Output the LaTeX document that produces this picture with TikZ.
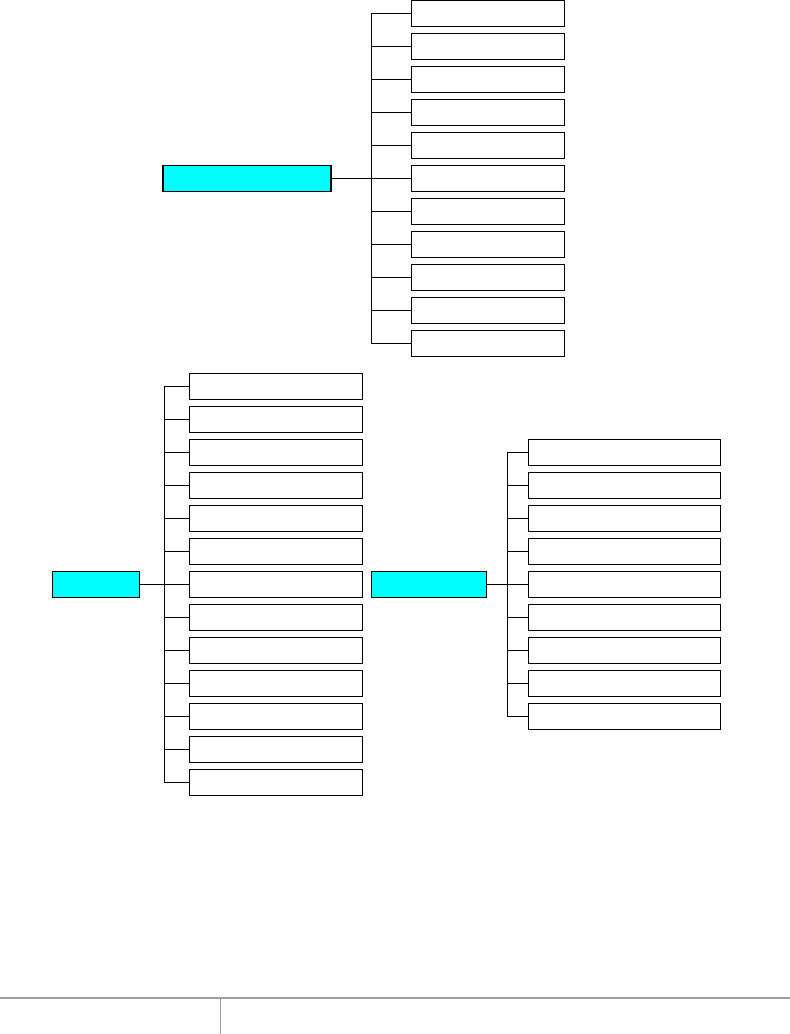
\documentclass[tikz,border=0pt]{standalone}
\usepackage{tikz}
\usetikzlibrary{positioning}
\definecolor{rootcyan}{HTML}{00FFFF}
\definecolor{footgray}{HTML}{A0A0A0}

\begin{document}
\begin{tikzpicture}[x=1pt, y=-1pt,
  every node/.style={draw, line width=1.2pt, inner sep=0pt, minimum height=26pt},
  leaf/.style={minimum width=153pt},
  rootbox/.style={fill=rootcyan}]
\useasboundingbox (0,0) rectangle (790,1034);

% top tree
\coordinate (tbus) at (371.3,0);
\foreach \k in {1,...,11}
  \node[leaf] (t\k) at (487.8,{13.6+33*(\k-1)}) {};
\node[rootbox, minimum width=168pt] (troot) at (247,0 |- t6) {};
\draw[line width=1.2pt] (tbus |- t1.west) -- (tbus |- t11.west);
\foreach \k in {1,...,11}
  \draw[line width=1.2pt] (tbus |- t\k.west) -- (t\k.west);
\draw[line width=1.2pt] (troot.east) -- (t6.west);

% bottom left tree
\coordinate (lbus) at (164.3,0);
\foreach \k in {1,...,13}
  \node[leaf, minimum width=173pt] (l\k) at (276,{386.6+33*(\k-1)}) {};
\node[rootbox, minimum width=87pt] (lroot) at (95.8,0 |- l7) {};
\draw[line width=1.2pt] (lbus |- l1.west) -- (lbus |- l13.west);
\foreach \k in {1,...,13}
  \draw[line width=1.2pt] (lbus |- l\k.west) -- (l\k.west);
\draw[line width=1.2pt] (lroot.east) -- (l7.west);

% bottom right tree
\coordinate (rbus) at (507.3,0);
\foreach \k in {1,...,9}
  \node[leaf, minimum width=192pt] (r\k) at (624.5,{452.6+33*(\k-1)}) {};
\node[rootbox, minimum width=115pt] (rroot) at (429,0 |- r5) {};
\draw[line width=1.2pt] (rbus |- r1.west) -- (rbus |- r9.west);
\foreach \k in {1,...,9}
  \draw[line width=1.2pt] (rbus |- r\k.west) -- (r\k.west);
\draw[line width=1.2pt] (rroot.east) -- (r5.west);

% footer rule
\draw[footgray, line width=2pt] (0,997.7) -- (790,997.7);
\draw[footgray, line width=1pt] (220.5,998) -- (220.5,1034);
\end{tikzpicture}
\end{document}
